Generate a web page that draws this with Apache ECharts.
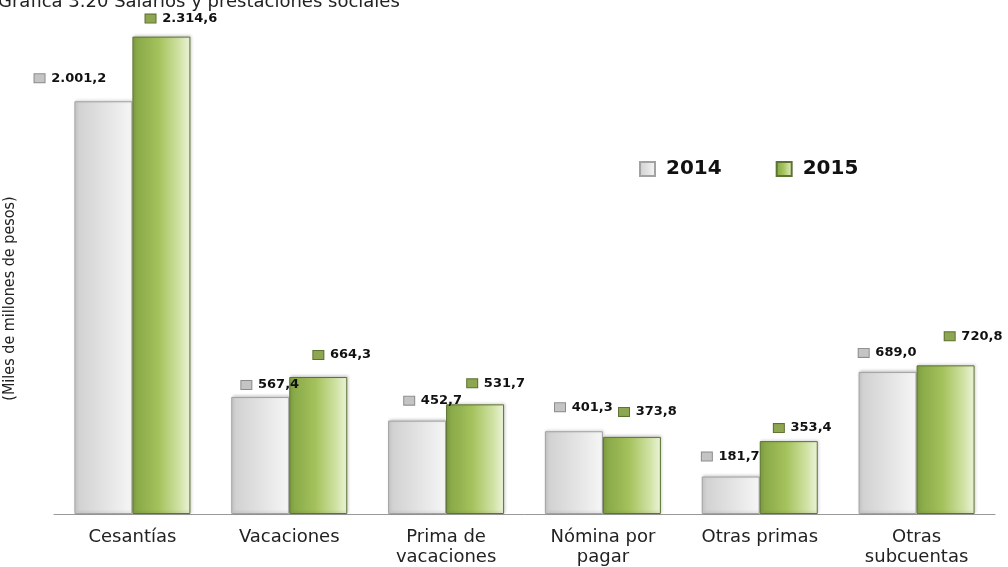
<!DOCTYPE html>
<html>
<head>
<meta charset="utf-8">
<script src="https://cdn.jsdelivr.net/npm/echarts@6/dist/echarts.min.js"></script>
<style>
  html, body { margin: 0; padding: 0; background: #fff; }
  #chart { width: 1008px; height: 567px; }
</style>
</head>
<body>
<div id="chart"></div>
<script>
// datos de la gráfica
var categorias = ['Cesantías', 'Vacaciones', 'Prima de\nvacaciones', 'Nómina por\npagar', 'Otras primas', 'Otras\nsubcuentas'];
var anios = ['2014', '2015'];
var valores2014 = [2001.2, 567.4, 452.7, 401.3, 181.7, 689.0];
var valores2015 = [2314.6, 664.3, 531.7, 373.8, 353.4, 720.8];

// desplazamiento de las etiquetas (como en el original)
var offsets2014 = [[-33, -10], [10, 1], [16, -7], [10, -11], [0, -7], [0, -6]];
var offsets2015 = [[20, -5], [24, -9], [21, -8], [16, -12], [14, 0], [28, -16]];

function fmt(v) {
  // formato es-CO: 2.001,2
  var s = v.toFixed(1).split('.');
  var ent = s[0].replace(/\B(?=(\d{3})+(?!\d))/g, '.');
  return ent + ',' + s[1];
}

var grisGrad = new echarts.graphic.LinearGradient(0, 0, 1, 0, [
  { offset: 0, color: '#cfcfcf' },
  { offset: 0.5, color: '#e2e2e2' },
  { offset: 1, color: '#f6f6f6' }
]);
var verdeGrad = new echarts.graphic.LinearGradient(0, 0, 1, 0, [
  { offset: 0, color: '#84a444' },
  { offset: 0.45, color: '#a4c25c' },
  { offset: 0.8, color: '#cfe1a2' },
  { offset: 1, color: '#ecf4da' }
]);

function armarDatos(vals, offs) {
  return vals.map(function (v, i) {
    return { value: v, label: { offset: offs[i] } };
  });
}

function etiqueta(tipo) {
  return {
    show: true,
    position: 'top',
    distance: 5,
    formatter: function (p) { return '{ic|}  {v|' + fmt(p.value) + '}'; },
    rich: {
      ic: {
        width: 10, height: 8,
        backgroundColor: tipo === 'g' ? '#c4c4c4' : '#8ea650',
        borderColor: tipo === 'g' ? '#8c8c8c' : '#5c7030',
        borderWidth: 1
      },
      v: {
        fontFamily: 'DejaVu Sans', fontWeight: 'bold', fontSize: 13, color: '#111', lineHeight: 16
      }
    }
  };
}

var chart = echarts.init(document.getElementById('chart'));

var option = {
  animation: false,
  backgroundColor: '#fff',
  title: {
    text: 'Gráfica 3.20 Salarios y prestaciones sociales',
    left: -7,
    top: -12,
    textStyle: { fontFamily: 'DejaVu Sans', fontWeight: 'normal', fontSize: 18, color: '#222' }
  },
  legend: {
    left: 634,
    top: 154,
    itemWidth: 15,
    itemHeight: 14,
    itemGap: 54,
    icon: 'rect',
    textStyle: { fontFamily: 'DejaVu Sans', fontWeight: 'bold', fontSize: 20, color: '#111', padding: [0, 0, 0, 6] },
    data: anios
  },
  grid: { left: 54, right: 13, top: 19, bottom: 53, containLabel: false, outerBoundsMode: 'none' },
  xAxis: {
    type: 'category',
    data: categorias,
    axisLine: { lineStyle: { color: '#999', width: 1 } },
    axisTick: { show: false },
    axisLabel: {
      margin: 13,
      fontFamily: 'DejaVu Sans',
      fontSize: 18,
      color: '#222',
      lineHeight: 20,
      interval: 0
    }
  },
  yAxis: {
    type: 'value',
    min: 0,
    max: 2400,
    name: '(Miles de millones de pesos)',
    nameLocation: 'middle',
    nameRotate: 90,
    nameGap: 36,
    nameTextStyle: {
      fontFamily: "'DejaVu Sans Condensed', 'Liberation Sans'",
      fontSize: 16,
      color: '#222',
      padding: [0, 64, 0, 0]
    },
    axisLine: { show: false },
    axisTick: { show: false },
    axisLabel: { show: false },
    splitLine: { show: false }
  },
  series: [
    {
      name: anios[0],
      type: 'bar',
      barWidth: 58,
      barGap: '0%',
      data: armarDatos(valores2014, offsets2014),
      itemStyle: {
        color: grisGrad,
        borderColor: '#a2a2a2',
        borderWidth: 1,
        shadowColor: 'rgba(0,0,0,0.18)',
        shadowBlur: 3,
        shadowOffsetX: 1,
        shadowOffsetY: -1
      },
      label: etiqueta('g')
    },
    {
      name: anios[1],
      type: 'bar',
      barWidth: 58,
      data: armarDatos(valores2015, offsets2015),
      itemStyle: {
        color: verdeGrad,
        borderColor: '#5d7332',
        borderWidth: 1,
        shadowColor: 'rgba(0,0,0,0.18)',
        shadowBlur: 3,
        shadowOffsetX: 1,
        shadowOffsetY: -1
      },
      label: etiqueta('v')
    }
  ]
};

chart.setOption(option);
</script>
</body>
</html>
